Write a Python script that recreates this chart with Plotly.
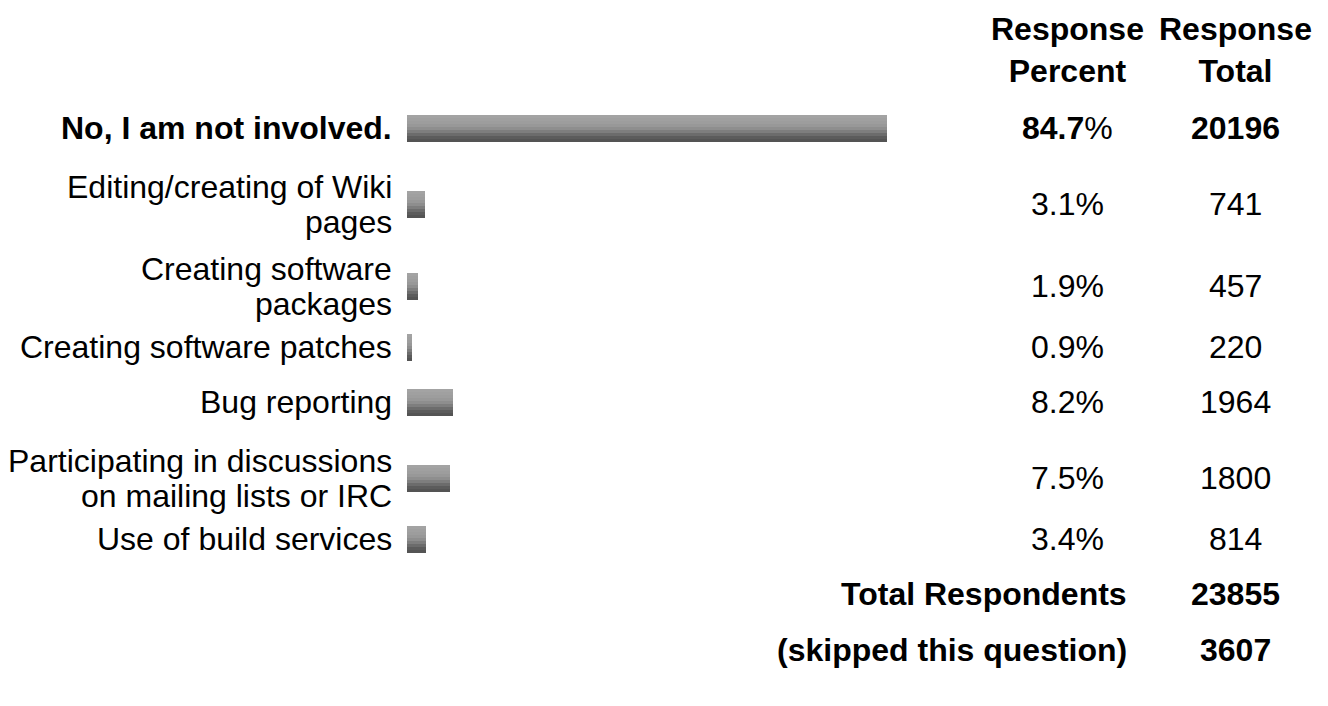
import plotly.graph_objects as go

# ---- data ----
labels = [
    "<b>No, I am not involved.</b>",
    "Editing/creating of Wiki<br>pages",
    "Creating software<br>packages",
    "Creating software patches",
    "Bug reporting",
    "Participating in discussions<br>on mailing lists or IRC",
    "Use of build services",
]
percents = [84.7, 3.1, 1.9, 0.9, 8.2, 7.5, 3.4]
percent_text = ["<b>84.7</b>%", "3.1%", "1.9%", "0.9%", "8.2%", "7.5%", "3.4%"]
totals = [20196, 741, 457, 220, 1964, 1800, 814]
total_bold = [True, False, False, False, False, False, False]
summary_labels = ["Total Respondents", "(skipped this question)"]
summary_values = [23855, 3607]
headers = ["Response<br>Percent", "Response<br>Total"]

# ---- layout constants ----
W, H = 1328, 706
FONT = "Liberation Sans, Arial, Helvetica, sans-serif"
FS = 32
BAR_X0 = 407          # pixel where bars start
PX_PER_PCT = 480 / 84.7
LABEL_RIGHT = 394
PCT_CENTER = 1067
TOT_CENTER = 1235
HEADER_Y = 50
FIRST_ROW_Y = 128
ROW_STEP = 55
EXTRA_NEXT = 21
EXTRA_PREV = 6
LINE_GAP = 35
BAR_H = 27
band_grays = [163, 160, 157, 152, 142, 126, 108, 92, 84]

# row centres (pixel units on a reversed y axis)
nlines = [lab.count("<br>") + 1 for lab in labels]
centers = [FIRST_ROW_Y]
for i in range(1, len(labels)):
    centers.append(centers[-1] + ROW_STEP + EXTRA_NEXT * (nlines[i] - 1) + EXTRA_PREV * (nlines[i - 1] - 1))
summary_centers = [centers[-1] + ROW_STEP + EXTRA_PREV * (nlines[-1] - 1)]
summary_centers.append(summary_centers[0] + 56)

fig = go.Figure()
band_h = BAR_H / len(band_grays)
for k, g in enumerate(band_grays):
    fig.add_trace(go.Bar(
        orientation="h",
        x=percents,
        y=centers,
        width=band_h + 0.4,
        offset=-BAR_H / 2 + k * band_h,
        marker=dict(color=f"rgb({g},{g},{g})", line=dict(width=0)),
        hoverinfo="skip",
        showlegend=False,
    ))

ann = []
def add(text, xpx, ypx, anchor="center"):
    ann.append(dict(text=text, x=xpx / W, xref="paper", y=ypx, yref="y",
                    xanchor=anchor, yanchor="middle", showarrow=False,
                    font=dict(family=FONT, size=FS, color="black")))

# headers
for h, cx in zip(headers, [PCT_CENTER, TOT_CENTER]):
    ann.append(dict(text=f"<b>{h}</b>", x=cx / W, xref="paper", y=HEADER_Y, yref="y",
                    xanchor="center", yanchor="middle", showarrow=False, align="center",
                    font=dict(family=FONT, size=FS, color="black")))

# rows
for lab, c, pt, tot, b in zip(labels, centers, percent_text, totals, total_bold):
    lines = lab.split("<br>")
    n = len(lines)
    for j, ln in enumerate(lines):
        add(ln, LABEL_RIGHT, c + (j - (n - 1) / 2) * LINE_GAP, "right")
    add(pt, PCT_CENTER, c)
    add(f"<b>{tot}</b>" if b else str(tot), TOT_CENTER, c)

for lab, val, c in zip(summary_labels, summary_values, summary_centers):
    add(f"<b>{lab}</b>", 1129, c, "right")
    add(f"<b>{val}</b>", TOT_CENTER, c)

fig.update_layout(
    width=W, height=H,
    margin=dict(l=0, r=0, t=0, b=0),
    paper_bgcolor="white", plot_bgcolor="white",
    barmode="overlay",
    bargap=0,
    xaxis=dict(domain=[BAR_X0 / W, 1], range=[0, (W - BAR_X0) / PX_PER_PCT],
               visible=False, fixedrange=True),
    yaxis=dict(domain=[0, 1], range=[H, 0], visible=False, fixedrange=True),
    annotations=ann,
    showlegend=False,
)

fig.write_html("out.html", config={"displayModeBar": False},
               post_script="document.body.style.margin='0';document.body.style.overflow='hidden';")
